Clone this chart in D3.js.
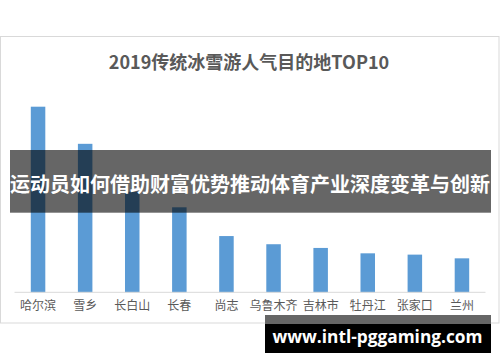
<!DOCTYPE html>
<html>
<head>
<meta charset="utf-8">
<script src="https://cdn.jsdelivr.net/npm/d3@7"></script>
<style>
  html, body { margin: 0; padding: 0; background: #fff; }
  svg { display: block; }
</style>
</head>
<body>
<div id="chart"></div>
<script>
// chart data
const title = "2019传统冰雪游人气目的地TOP10";
const cities = ["哈尔滨", "雪乡", "长白山", "长春", "尚志", "乌鲁木齐", "吉林市", "牡丹江", "张家口", "兰州"];
const heat = [100, 80, 54.2, 45.8, 30.3, 25.9, 23.9, 21, 20.3, 18.3];
const banner = "运动员如何借助财富优势推动体育产业深度变革与创新";
const site = "www.intl-pggaming.com";

const width = 500, height = 362;
const cjk = "'Noto Sans CJK SC', 'Noto Sans', sans-serif";

const svg = d3.select("#chart").append("svg")
    .attr("width", width)
    .attr("height", height);

// outer frame of the chart picture
svg.append("rect")
    .attr("x", 0.5).attr("y", 36.5)
    .attr("width", 498.5).attr("height", 286.5)
    .attr("fill", "#fff")
    .attr("stroke", "#d9d9d9");

svg.append("text")
    .attr("x", 249).attr("y", 68.5)
    .attr("text-anchor", "middle")
    .attr("font-family", cjk)
    .attr("font-weight", "bold")
    .attr("font-size", 18)
    .attr("fill", "#595959")
    .text(title);

const x = d3.scaleBand()
    .domain(cities)
    .range([14.5, 485.5])
    .paddingInner(0.692)
    .paddingOuter(0.346);

const y = d3.scaleLinear()
    .domain([0, 100])
    .range([292.3, 106.7]);

svg.selectAll("rect.bar")
    .data(cities)
    .join("rect")
    .attr("class", "bar")
    .attr("x", d => x(d))
    .attr("width", x.bandwidth())
    .attr("y", (d, i) => y(heat[i]))
    .attr("height", (d, i) => y(0) - y(heat[i]))
    .attr("fill", "#5b9bd5");

// category axis
const axis = svg.append("g")
    .attr("transform", `translate(0,${y(0)})`)
    .call(d3.axisBottom(x).tickSize(0).tickPadding(9));
axis.select(".domain").attr("stroke", "#d9d9d9").attr("d", "M14.5,0H485.5");
axis.selectAll("text")
    .attr("font-family", cjk)
    .attr("font-size", 12)
    .attr("fill", "#595959");

// semi transparent banner over the chart
svg.append("rect")
    .attr("x", 10).attr("y", 150)
    .attr("width", 481).attr("height", 62.7)
    .attr("fill", "#000")
    .attr("fill-opacity", 0.6);

svg.append("text")
    .attr("x", 250).attr("y", 192)
    .attr("text-anchor", "middle")
    .attr("font-family", cjk)
    .attr("font-weight", "bold")
    .attr("font-size", 20)
    .attr("fill", "#fff")
    .text(banner);

// watermark box
svg.append("rect")
    .attr("x", 265).attr("y", 315)
    .attr("width", 226).attr("height", 38)
    .attr("fill", "#666");
svg.append("rect")
    .attr("x", 265).attr("y", 324)
    .attr("width", 226).attr("height", 29)
    .attr("fill", "#000");

svg.append("text")
    .attr("x", 377.5).attr("y", 342.5)
    .attr("text-anchor", "middle")
    .attr("font-family", "'Open Sans', 'Noto Sans', sans-serif")
    .attr("font-weight", "bold")
    .attr("font-size", 17.3)
    .attr("fill", "#fff")
    .text(site);
</script>
</body>
</html>
